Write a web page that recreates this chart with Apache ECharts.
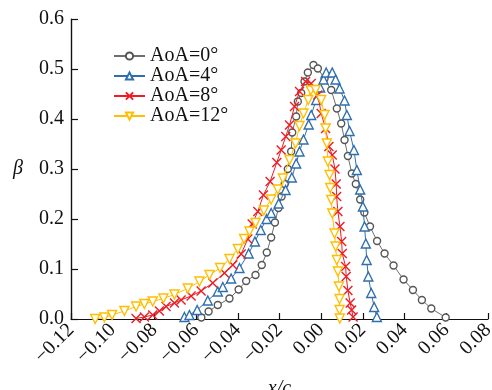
<!DOCTYPE html>
<html>
<head>
<meta charset="utf-8">
<script src="https://cdn.jsdelivr.net/npm/echarts@6/dist/echarts.min.js"></script>
<style>html,body{margin:0;padding:0;background:#fff}#c{width:492px;height:390px}</style>
</head>
<body>
<div id="c"></div>
<script>
var seriesNames = ['AoA=0°', 'AoA=4°', 'AoA=8°', 'AoA=12°'];
var xTicks = [-0.12, -0.10, -0.08, -0.06, -0.04, -0.02, 0.00, 0.02, 0.04, 0.06, 0.08];
var yTicks = [0.0, 0.1, 0.2, 0.3, 0.4, 0.5, 0.6];

var aoa0 = [[-0.0575,0.003],[-0.054,0.015],[-0.0496,0.028],[-0.044,0.041],[-0.0396,0.059],[-0.036,0.076],[-0.0315,0.088],[-0.0285,0.108],[-0.0261,0.133],[-0.024,0.163],[-0.0222,0.193],[-0.0205,0.222],[-0.019,0.245],[-0.0175,0.270],[-0.016,0.300],[-0.0144,0.335],[-0.0139,0.373],[-0.012,0.405],[-0.0112,0.435],[-0.0096,0.452],[-0.008,0.475],[-0.0064,0.493],[-0.0037,0.508],[-0.0016,0.501],[0.0016,0.481],[0.0048,0.458],[0.0075,0.421],[0.0096,0.391],[0.0112,0.358],[0.0128,0.326],[0.0147,0.291],[0.0166,0.270],[0.0187,0.239],[0.0207,0.213],[0.0234,0.185],[0.0268,0.156],[0.0304,0.131],[0.0347,0.107],[0.0395,0.079],[0.044,0.058],[0.0483,0.038],[0.0528,0.021],[0.0597,0.003]];

var aoa4 = [[-0.0656,0.004],[-0.0632,0.008],[-0.0595,0.018],[-0.0544,0.037],[-0.0496,0.055],[-0.0472,0.064],[-0.0432,0.081],[-0.0392,0.102],[-0.0348,0.131],[-0.0318,0.155],[-0.0290,0.178],[-0.0262,0.200],[-0.0240,0.212],[-0.0204,0.231],[-0.0171,0.258],[-0.0141,0.283],[-0.0120,0.311],[-0.0104,0.335],[-0.0085,0.359],[-0.0060,0.389],[-0.0048,0.408],[-0.0024,0.438],[-0.0005,0.463],[0.0011,0.479],[0.0024,0.493],[0.0053,0.493],[0.0069,0.479],[0.0088,0.461],[0.0112,0.437],[0.0123,0.408],[0.0136,0.376],[0.0157,0.338],[0.0171,0.298],[0.0187,0.259],[0.0200,0.225],[0.0208,0.185],[0.0214,0.151],[0.0218,0.118],[0.0226,0.085],[0.0240,0.052],[0.0254,0.024],[0.0267,0.004]];

var aoa8 = [[-0.0888,0.001],[-0.0848,0.004],[-0.0808,0.008],[-0.0776,0.016],[-0.0744,0.025],[-0.0704,0.032],[-0.0672,0.038],[-0.0624,0.046],[-0.0576,0.056],[-0.0520,0.072],[-0.0464,0.092],[-0.0424,0.108],[-0.0384,0.130],[-0.0352,0.160],[-0.0331,0.190],[-0.0304,0.215],[-0.0277,0.248],[-0.0245,0.275],[-0.0213,0.313],[-0.0192,0.338],[-0.0170,0.365],[-0.0152,0.388],[-0.0128,0.425],[-0.0104,0.455],[-0.0075,0.475],[-0.0048,0.471],[-0.0016,0.448],[0.0000,0.411],[0.0021,0.381],[0.0037,0.345],[0.0053,0.328],[0.0066,0.300],[0.0072,0.270],[0.0074,0.245],[0.0080,0.215],[0.0090,0.185],[0.0098,0.155],[0.0101,0.131],[0.0117,0.105],[0.0120,0.085],[0.0128,0.057],[0.0139,0.032],[0.0146,0.018],[0.0153,0.004]];

var aoa12 = [[-0.1084,0.000],[-0.1040,0.003],[-0.1003,0.008],[-0.0944,0.016],[-0.0888,0.025],[-0.0848,0.030],[-0.0808,0.035],[-0.0757,0.041],[-0.0704,0.049],[-0.0640,0.061],[-0.0584,0.075],[-0.0536,0.088],[-0.0485,0.102],[-0.0440,0.120],[-0.0400,0.140],[-0.0370,0.160],[-0.0344,0.175],[-0.0315,0.192],[-0.0275,0.217],[-0.0240,0.239],[-0.0208,0.259],[-0.0184,0.281],[-0.0152,0.318],[-0.0123,0.351],[-0.0104,0.386],[-0.0085,0.411],[-0.0062,0.438],[-0.0050,0.457],[-0.0027,0.458],[0.0000,0.438],[0.0016,0.408],[0.0021,0.381],[0.0027,0.351],[0.0032,0.315],[0.0040,0.288],[0.0043,0.262],[0.0048,0.238],[0.0053,0.211],[0.0064,0.171],[0.0069,0.145],[0.0075,0.118],[0.0080,0.095],[0.0085,0.065],[0.0088,0.040],[0.0088,0.018],[0.0089,0.001]];

var colors = ['#555555', '#2f6fad', '#ee1c25', '#ffbf00'];
var lineColors = ['#6e6e6e', '#2f6fad', '#ee1c25', '#ffbf00'];
var datas = [aoa0, aoa4, aoa8, aoa12];
var symbols = ['circle', 'triangle', 'path://M0,0L10,10M10,0L0,10', 'triangle'];
var sizes = [7, 9, 9, 9];
var rotates = [0, 0, 0, 180];

var font = '"Liberation Serif", "Times New Roman", serif';

function fmtX(v) {
  var s = Math.abs(v).toFixed(2);
  return (v < -1e-9 ? '\u2212' : '') + s;
}

var series = datas.map(function (d, i) {
  var s = {
    name: seriesNames[i],
    type: 'line',
    data: d,
    symbol: symbols[i],
    symbolSize: sizes[i],
    symbolRotate: rotates[i],
    showAllSymbol: true,
    lineStyle: { color: lineColors[i], width: 1 },
    itemStyle: { color: '#fff', borderColor: colors[i], borderWidth: 1.4 },
    emphasis: { disabled: true },
    z: 2 + i
  };
  if (i === 0) {
    s.markLine = {
      silent: true,
      symbol: 'none',
      animation: false,
      label: { show: false },
      lineStyle: { color: '#111', width: 1.2, type: 'solid' },
      data: [{ xAxis: xTicks[0] }]
    };
  }
  return s;
});

var chart = echarts.init(document.getElementById('c'));
chart.setOption({
  animation: false,
  grid: { left: 71, right: 4, top: 19, bottom: 71, containLabel: false, outerBoundsMode: 'none' },
  legend: {
    orient: 'vertical',
    left: 113,
    top: 46,
    padding: 0,
    itemWidth: 31,
    itemHeight: 9,
    itemGap: 0,
    data: seriesNames,
    textStyle: { fontFamily: font, fontSize: 20, color: '#111', lineHeight: 19 }
  },
  xAxis: {
    type: 'value',
    min: -0.12, max: 0.08, interval: 0.02,
    name: 'x/c',
    nameLocation: 'middle',
    nameGap: 60,
    nameTextStyle: { fontFamily: font, fontStyle: 'italic', fontSize: 20, color: '#111', verticalAlign: 'top' },
    axisLine: { show: true, onZero: false, lineStyle: { color: '#111', width: 1.2 } },
    axisTick: { show: true, inside: true, length: 6, lineStyle: { color: '#111', width: 1.2 } },
    splitLine: { show: false },
    axisLabel: {
      rotate: 45, margin: 8,
      fontFamily: font, fontSize: 20, color: '#111',
      formatter: function (v) { return fmtX(v); },
      customValues: xTicks
    }
  },
  yAxis: {
    type: 'value',
    z: 10,
    min: 0, max: 0.6, interval: 0.1,
    name: 'β',
    nameLocation: 'middle',
    nameGap: 48,
    nameRotate: 0,
    nameTextStyle: { fontFamily: font, fontStyle: 'italic', fontSize: 20, color: '#111' },
    axisLine: { show: true, onZero: false, lineStyle: { color: '#111', width: 1.2 } },
    axisTick: { show: true, inside: true, length: 7, lineStyle: { color: '#111', width: 1.2 } },
    splitLine: { show: false },
    axisLabel: {
      margin: 7,
      fontFamily: font, fontSize: 20, color: '#111',
      formatter: function (v) { return v.toFixed(1); }
    }
  },
  series: series
});
</script>
</body>
</html>
